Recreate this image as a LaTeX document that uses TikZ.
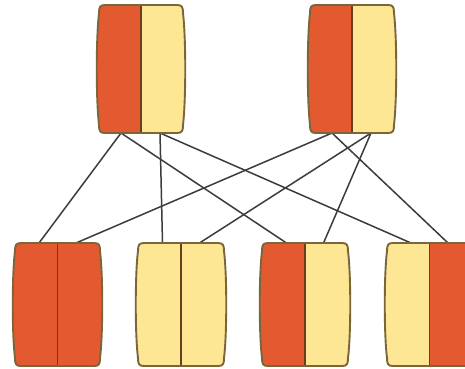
\documentclass[tikz,border=0pt]{standalone}
\usetikzlibrary{calc}

\definecolor{cellred}{RGB}{228,90,48}
\definecolor{cellyellow}{RGB}{253,231,148}
\definecolor{celledge}{RGB}{122,102,58}
\definecolor{celldiv}{RGB}{105,62,32}
\definecolor{linkgray}{RGB}{60,60,60}

\tikzset{
  boxnode/.style={inner sep=0pt, outer sep=0pt, draw=none, minimum width=84, minimum height=#1},
  boxnode/.default=123,
  outline/.style={draw=celledge, line width=1.9, line join=round},
  divider/.style={draw=celldiv, line width=1.6},
  link/.style={draw=linkgray, line width=1.5},
}

% barrel-shaped outline of a box node: straight top and bottom,
% rounded corners and slightly bulging sides
\newcommand\barrelpath[1]{%
  ($(#1.north west)+(6,0)$) -- ($(#1.north east)+(-6,0)$)
  .. controls ($(#1.north east)+(-1,0)$) and ($(#1.north east)+(0,2)$) .. ($(#1.north east)+(0,8)$)
  .. controls ($(#1.east)+(3,-30)$) and ($(#1.east)+(3,30)$) .. ($(#1.south east)+(0,-8)$)
  .. controls ($(#1.south east)+(0,-2)$) and ($(#1.south east)+(-1,0)$) .. ($(#1.south east)+(-6,0)$)
  -- ($(#1.south west)+(6,0)$)
  .. controls ($(#1.south west)+(1,0)$) and ($(#1.south west)+(0,-2)$) .. ($(#1.south west)+(0,-8)$)
  .. controls ($(#1.west)+(-3,30)$) and ($(#1.west)+(-3,-30)$) .. ($(#1.north west)+(0,8)$)
  .. controls ($(#1.north west)+(0,2)$) and ($(#1.north west)+(1,0)$) .. cycle}

% \cellbox{name}{left colour}{right colour}: paints a box node in two halves
\newcommand\cellbox[3]{%
  \begin{scope}
    \clip \barrelpath{#1};
    \fill[#2] ($(#1.north west)+(-5,-5)$) rectangle ($(#1.south)+(0,5)$);
    \fill[#3] ($(#1.north)+(0,-5)$) rectangle ($(#1.south east)+(5,5)$);
  \end{scope}
  \draw[divider] (#1.north) -- (#1.south);
  \draw[outline] \barrelpath{#1};
}

\begin{document}
\begin{tikzpicture}[x=1pt, y=-1pt]
  \clip (0,0) rectangle (465,368);
  \fill[white] (0,0) rectangle (465,368);

  % upper row
  \node[boxnode=128] (t1) at (141,69) {};
  \node[boxnode=128] (t2) at (352,69) {};
  % lower row
  \node[boxnode, minimum width=85] (b1) at (57.5,304.5) {};
  \node[boxnode, minimum width=86] (b2) at (181,304.5) {};
  \node[boxnode, minimum width=86] (b3) at (305,304.5) {};
  \node[boxnode, minimum width=85] (b4) at (429.5,304.5) {};

  % attachment points on the box edges
  \foreach \n in {t1,t2} {
    \coordinate (\n l) at ($(\n.south)+(-20,0)$);
    \coordinate (\n r) at ($(\n.south)+(19,0)$);
  }
  \foreach \n in {b1,b2,b3,b4} {
    \coordinate (\n l) at ($(\n.north)+(-18.5,0)$);
    \coordinate (\n r) at ($(\n.north)+(18.5,0)$);
  }

  % links between the two rows
  \draw[link] (t1l) -- (b1l);
  \draw[link] (t1l) -- (b3l);
  \draw[link] (t1r) -- (b2l);
  \draw[link] (t1r) -- (b4l);
  \draw[link] (t2l) -- (b1r);
  \draw[link] (t2l) -- (b4r);
  \draw[link] (t2r) -- (b2r);
  \draw[link] (t2r) -- (b3r);

  % boxes
  \cellbox{t1}{cellred}{cellyellow}
  \cellbox{t2}{cellred}{cellyellow}
  \cellbox{b1}{cellred}{cellred}
  \cellbox{b2}{cellyellow}{cellyellow}
  \cellbox{b3}{cellred}{cellyellow}
  \cellbox{b4}{cellyellow}{cellred}
\end{tikzpicture}
\end{document}
